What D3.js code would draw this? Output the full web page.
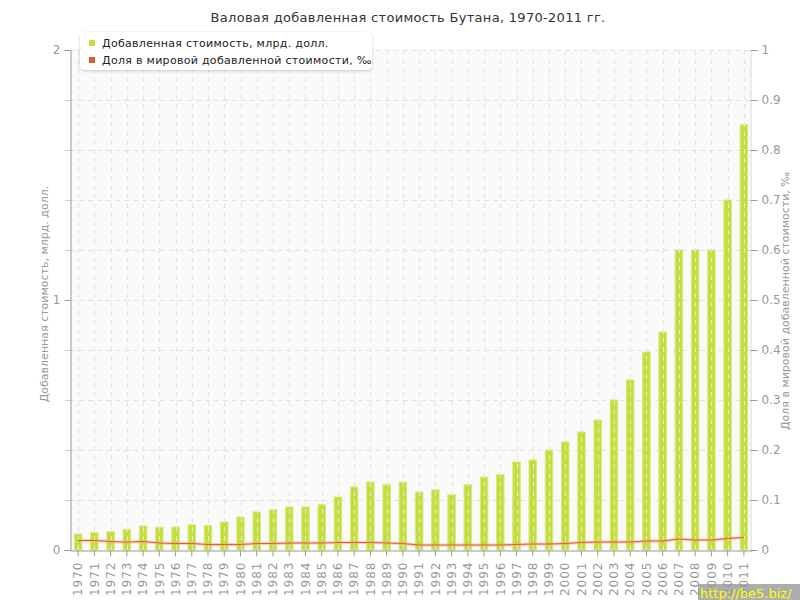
<!DOCTYPE html>
<html><head><meta charset="utf-8">
<script src="https://cdn.jsdelivr.net/npm/d3@7"></script>
<style>
body{margin:0;background:#fff;}
svg{display:block;font-family:"DejaVu Sans",Verdana,sans-serif;}
</style></head>
<body><svg id="c" width="800" height="600"></svg>
<script>
const years = d3.range(1970, 2012).map(String);
const valueAdded = [0.064,0.069,0.073,0.083,0.096,0.091,0.092,0.101,0.097,0.112,
  0.132,0.152,0.161,0.172,0.172,0.181,0.212,0.252,0.272,0.261,
  0.272,0.232,0.241,0.221,0.261,0.292,0.301,0.352,0.360,0.400,
  0.432,0.472,0.520,0.600,0.680,0.792,0.872,1.200,1.200,1.200,
  1.400,1.701];
const worldShare = [0.019,0.019,0.017,0.016,0.017,0.014,0.013,0.013,0.011,0.011,
  0.011,0.013,0.013,0.014,0.014,0.014,0.015,0.015,0.015,0.014,
  0.013,0.010,0.010,0.010,0.010,0.010,0.010,0.011,0.012,0.012,
  0.013,0.015,0.016,0.016,0.016,0.018,0.018,0.022,0.020,0.020,
  0.023,0.025];
const leftTicks = [0,1,2];
const rightTicks = [0,0.1,0.2,0.3,0.4,0.5,0.6,0.7,0.8,0.9,1];
const title = "Валовая добавленная стоимость Бутана, 1970-2011 гг.";
const seriesNames = ["Добавленная стоимость, млрд. долл.","Доля в мировой добавленной стоимости, ‰"];
const leftLabel = "Добавленная стоимость, млрд. долл.";
const rightLabel = "Доля в мировой добавленной стоимости, ‰";

const svg = d3.select("#c");
const L = 70, R = 752, T = 50, B = 550;
const x = d3.scaleBand().domain(years).range([L, R]);
const yL = d3.scaleLinear().domain([0, 2]).range([B, T]);
const yR = d3.scaleLinear().domain([0, 1]).range([B, T]);

svg.append("rect").attr("x", L).attr("y", T).attr("width", R - L).attr("height", B - T).attr("fill", "#fafafa");

const gridVals = d3.range(0.2, 2.01, 0.2);
svg.append("g").selectAll("line").data(gridVals).join("line")
  .attr("x1", L).attr("x2", R).attr("y1", d => Math.round(yL(d)) + 0.5).attr("y2", d => Math.round(yL(d)) + 0.5)
  .attr("stroke", "#e2e2e2").attr("stroke-dasharray", "5,4");

const bw = 7.5;
svg.append("g").selectAll("rect").data(valueAdded).join("rect")
  .attr("x", (d, i) => x(years[i]) + x.bandwidth() / 2 - bw / 2)
  .attr("y", d => yL(d))
  .attr("width", bw)
  .attr("height", d => B - yL(d))
  .attr("fill", "#c4df3a")
  .attr("stroke", "#d6ea7c").attr("stroke-width", 1);

svg.append("g").selectAll("line").data(years).join("line")
  .attr("x1", d => Math.round(x(d) + x.bandwidth() / 2) + 0.5)
  .attr("x2", d => Math.round(x(d) + x.bandwidth() / 2) + 0.5)
  .attr("y1", T).attr("y2", B)
  .attr("stroke", "#e4e4e4").attr("stroke-dasharray", "5,4");

const cx = (d, i) => x(years[i]) + x.bandwidth() / 2;
svg.append("path").datum(worldShare).attr("d", d3.line().x(cx).y(d => yR(d)).curve(d3.curveMonotoneX))
  .attr("fill", "none").attr("stroke", "#f2b08c").attr("stroke-width", 3).attr("stroke-opacity", 0.6);
svg.append("path").datum(worldShare).attr("d", d3.line().x(cx).y(d => yR(d)))
  .attr("fill", "none").attr("stroke", "#e0602a").attr("stroke-width", 1);

const gL = svg.append("g").attr("transform", `translate(${L + 0.5},0)`)
  .call(d3.axisLeft(yL).tickValues(leftTicks).tickFormat(d3.format("d")).tickSize(6).tickPadding(4));
gL.select(".domain").attr("stroke", "#999");
gL.selectAll(".tick line").attr("stroke", "#999");
gL.selectAll("text").attr("fill", "#999").attr("font-size", 12).attr("font-family", "DejaVu Sans");
svg.append("g").selectAll("line").data(gridVals.filter(v => Math.abs(v - 1) > 0.01 && Math.abs(v - 2) > 0.01)).join("line")
  .attr("x1", L - 5).attr("x2", L).attr("y1", d => Math.round(yL(d)) + 0.5).attr("y2", d => Math.round(yL(d)) + 0.5)
  .attr("stroke", "#ccc");

const gR = svg.append("g").attr("transform", `translate(${R - 1.5},0)`)
  .call(d3.axisRight(yR).tickValues(rightTicks).tickFormat(d => d === 0 ? "0" : (d === 1 ? "1" : d3.format(".1f")(d))).tickSize(7).tickPadding(4));
gR.select(".domain").attr("stroke", "#ddd");
gR.selectAll(".tick line").attr("stroke", "#999");
gR.selectAll("text").attr("fill", "#999").attr("font-size", 12).attr("font-family", "DejaVu Sans");

const gB = svg.append("g").attr("transform", `translate(0,${B + 0.5})`)
  .call(d3.axisBottom(x).tickSize(6).tickSizeOuter(0));
gB.select(".domain").attr("stroke", "#999");
gB.selectAll(".tick line").attr("stroke", "#999");
gB.selectAll("text").attr("fill", "#999").attr("font-size", 12).attr("font-family", "DejaVu Sans")
  .attr("letter-spacing", 1)
  .attr("text-anchor", "end").attr("dy", "0.35em")
  .attr("transform", "translate(0,5) rotate(-90)").attr("x", -6).attr("y", 0);

svg.append("text").attr("x", 408).attr("y", 22).attr("text-anchor", "middle")
  .attr("font-size", 13).attr("letter-spacing", 0.3).attr("fill", "#333").text(title);

svg.append("text").attr("transform", "translate(48,294) rotate(-90)").attr("text-anchor", "middle")
  .attr("font-size", 11).attr("fill", "#999").text(leftLabel);
svg.append("text").attr("transform", "translate(789,301) rotate(-90)").attr("text-anchor", "middle")
  .attr("font-size", 11).attr("fill", "#999").text(rightLabel);

const defs = svg.append("defs");
const f = defs.append("filter").attr("id", "sh").attr("x", "-10%").attr("y", "-30%").attr("width", "120%").attr("height", "160%");
f.append("feDropShadow").attr("dx", 0).attr("dy", 1).attr("stdDeviation", 1.5).attr("flood-color", "#000").attr("flood-opacity", 0.2);
const lg = svg.append("g");
lg.append("rect").attr("x", 80).attr("y", 32).attr("width", 292).attr("height", 38).attr("rx", 5)
  .attr("fill", "#fff").attr("filter", "url(#sh)");
const legColors = ["#c4df3a", "#e0602a"];
seriesNames.forEach((n, i) => {
  lg.append("rect").attr("x", 89).attr("y", 40 + i * 17).attr("width", 6).attr("height", 6).attr("fill", legColors[i]);
  lg.append("text").attr("x", 102).attr("y", 47 + i * 17).attr("font-size", 11).attr("letter-spacing", 0.3).attr("fill", "#222").text(n);
});

svg.append("rect").attr("x", 698).attr("y", 584).attr("width", 102).attr("height", 16).attr("fill", "#999").attr("fill-opacity", 0.8);
svg.append("text").attr("x", 700).attr("y", 598).attr("font-size", 13).attr("fill", "#ffff00").text("http://be5.biz/");
</script></body></html>
